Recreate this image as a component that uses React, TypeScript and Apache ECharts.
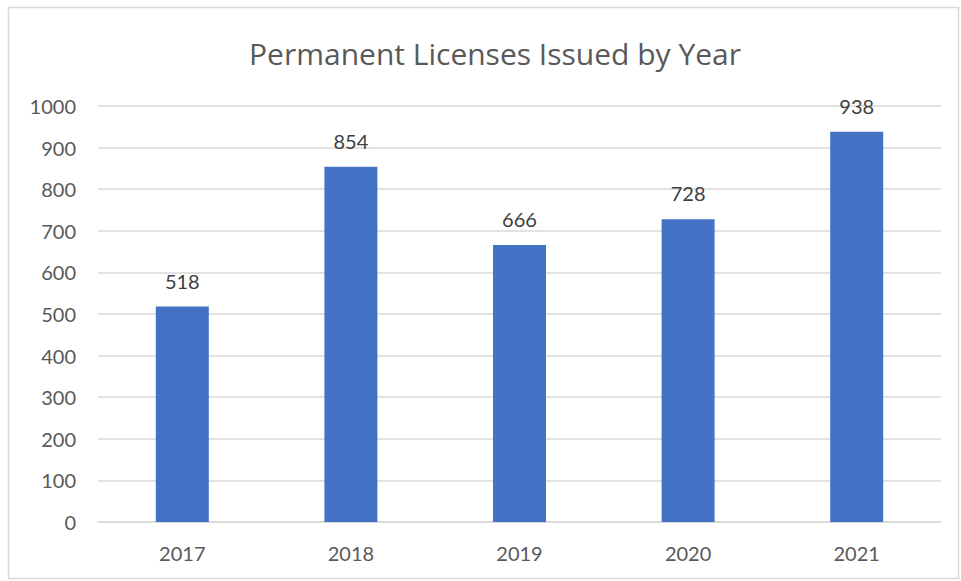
import React, { useEffect, useRef } from "react";
import * as echarts from "echarts";

const categories = ["2017", "2018", "2019", "2020", "2021"];
const values = [518, 854, 666, 728, 938];
const titleText = "Permanent Licenses Issued by Year";

export default function App() {
  const ref = useRef<HTMLDivElement>(null);
  useEffect(() => {
    if (!ref.current) return;
    const chart = echarts.init(ref.current, null, { renderer: "svg" });
    const font = "Lato, 'Open Sans', sans-serif";
    chart.setOption({
      animation: false,
      backgroundColor: "#ffffff",
      title: {
        text: titleText,
        top: 33,
        left: 490,
        textAlign: "center",
        textStyle: { fontFamily: "'Open Sans', sans-serif", fontSize: 30, fontWeight: "normal", color: "#595959" },
      },
      graphic: [
        {
          type: "rect",
          shape: { x: 8.5, y: 7.5, width: 950, height: 571 },
          style: { fill: "none", stroke: "#d9d9d9", lineWidth: 1.5 },
          silent: true,
        },
      ],
      grid: { left: 98, right: 20, top: 106, bottom: 59, containLabel: false },
      xAxis: {
        type: "category",
        data: categories,
        axisLine: { show: true, lineStyle: { color: "#d9d9d9", width: 1.5 } },
        axisTick: { show: false },
        axisLabel: { color: "#595959", fontFamily: font, fontSize: 20, margin: 21 },
      },
      yAxis: {
        type: "value",
        min: 0,
        max: 1000,
        interval: 100,
        axisLine: { show: false },
        axisTick: { show: false },
        splitLine: { lineStyle: { color: "#d9d9d9", width: 1.5 } },
        axisLabel: {
          color: "#595959",
          fontFamily: font,
          fontSize: 20,
          margin: 22,
          formatter: (v: number) => String(v),
        },
      },
      series: [
        {
          type: "bar",
          data: values,
          barWidth: 53,
          itemStyle: { color: "#4472c4" },
          label: {
            show: true,
            position: "top",
            distance: 16,
            color: "#404040",
            fontFamily: font,
            fontSize: 20,
          },
        },
      ],
    });
    return () => chart.dispose();
  }, []);
  return (
    <div
      ref={ref}
      style={{ position: "absolute", left: 0, top: 0, width: 961, height: 581 }}
    />
  );
}
